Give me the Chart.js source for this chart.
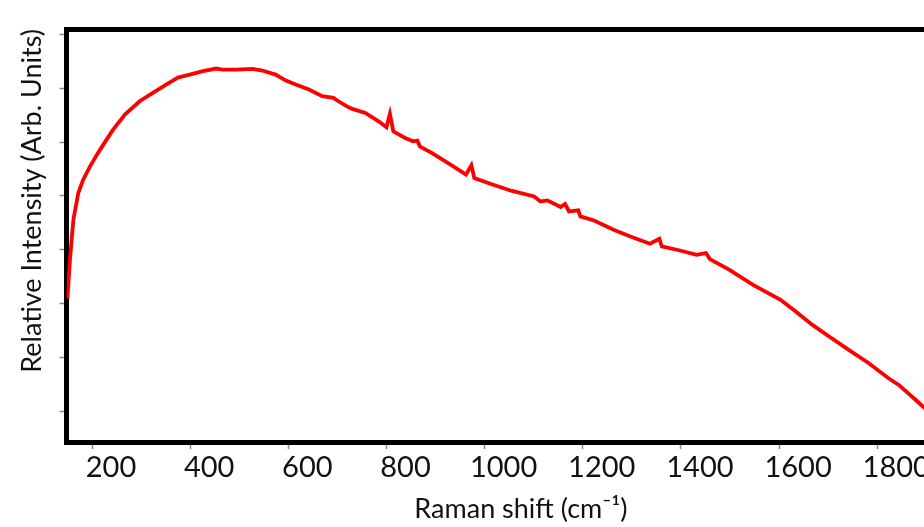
<!DOCTYPE html>
<html>
<head>
<meta charset="utf-8">
<script src="https://cdn.jsdelivr.net/npm/chart.js@4/dist/chart.umd.min.js"></script>
<style>
  html, body { margin: 0; padding: 0; background: #fff; overflow: hidden; }
  #wrap { width: 1010px; height: 527px; }
</style>
</head>
<body>
<div id="wrap"><canvas id="ramanChart"></canvas></div>
<script>
// Raman shift (cm-1)
const shift = [150, 155, 162, 172, 182, 196, 210, 223, 243, 267, 297, 324, 351, 375, 399,
  426, 453, 466, 493, 527, 547, 574, 595, 615, 642, 669, 692, 702, 723, 729, 757, 784,
  800, 807, 814, 838, 854, 863, 868, 892, 925, 962, 973, 979, 1013, 1054, 1101, 1114,
  1128, 1155, 1164, 1172, 1191, 1195, 1223, 1263, 1297, 1337, 1356, 1361, 1398, 1432,
  1451, 1459, 1499, 1547, 1603, 1634, 1668, 1702, 1742, 1783, 1823, 1844, 1886, 1900];

// relative intensity (arb. units)
const intensity = [2100, 2817, 3559, 4055, 4302, 4549, 4766, 4952, 5230, 5509, 5756, 5912,
  6066, 6196, 6251, 6313, 6363, 6344, 6344, 6357, 6326, 6251, 6140, 6066, 5973, 5849,
  5819, 5756, 5644, 5620, 5540, 5384, 5273, 5522, 5199, 5076, 5013, 5026, 4920, 4798,
  4612, 4395, 4568, 4334, 4222, 4098, 3992, 3899, 3918, 3795, 3851, 3713, 3732, 3621,
  3546, 3374, 3249, 3114, 3207, 3064, 2989, 2909, 2941, 2830, 2631, 2352, 2074, 1857,
  1610, 1393, 1146, 899, 620, 496, 156, 40];

const yTicks = [0, 1000, 2000, 3000, 4000, 5000, 6000, 7000];

const font = "Lato, 'Open Sans', sans-serif";

const ctx = document.getElementById('ramanChart').getContext('2d');
const ramanChart = new Chart(ctx, {
  type: 'line',
  data: {
    datasets: [{
      data: shift.map((s, i) => ({ x: s, y: intensity[i] })),
      borderColor: '#ff0000',
      borderWidth: 3.8,
      pointRadius: 0,
      tension: 0,
      fill: false
    }]
  },
  options: {
    responsive: true,
    maintainAspectRatio: false,
    animation: false,
    layout: { padding: { top: 29, right: 30, left: 0, bottom: 0 } },
    plugins: {
      legend: { display: false },
      tooltip: { enabled: false }
    },
    scales: {
      x: {
        type: 'linear',
        position: 'bottom',
        min: 148,
        max: 2000,
        afterFit: s => { s.height = 85; },
        grid: { drawOnChartArea: false, drawTicks: true, tickLength: 7, tickColor: '#888', tickWidth: 1.5 },
        border: { display: true, color: '#000', width: 5 },
        ticks: {
          stepSize: 200,
          includeBounds: false,
          color: '#111',
          padding: 1,
          labelOffset: 19,
          maxRotation: 0,
          callback: v => String(v),
          font: { family: font, size: 29 }
        },
        title: {
          display: true,
          text: 'Raman shift (cm⁻¹)',
          color: '#111',
          font: { family: font, size: 27 },
          padding: { top: 0, bottom: 2 }
        }
      },
      xTop: {
        type: 'linear',
        position: 'top',
        min: 148,
        max: 2000,
        afterFit: s => { s.height = 0; },
        grid: { display: true, drawOnChartArea: false, drawTicks: false },
        border: { display: true, color: '#000', width: 5 },
        ticks: { display: false }
      },
      y: {
        min: -562,
        max: 7096,
        afterFit: s => { s.width = 66.5; },
        afterBuildTicks: s => { s.ticks = yTicks.map(v => ({ value: v })); },
        grid: { drawOnChartArea: false, drawTicks: true, tickLength: 7, tickColor: '#888', tickWidth: 1.5 },
        border: { display: true, color: '#000', width: 5 },
        ticks: { display: false },
        title: {
          display: true,
          text: 'Relative Intensity (Arb. Units)',
          align: 'end',
          color: '#111',
          font: { family: font, size: 27 },
          padding: { top: 16, bottom: 0 }
        }
      }
    }
  }
});
</script>
</body>
</html>
